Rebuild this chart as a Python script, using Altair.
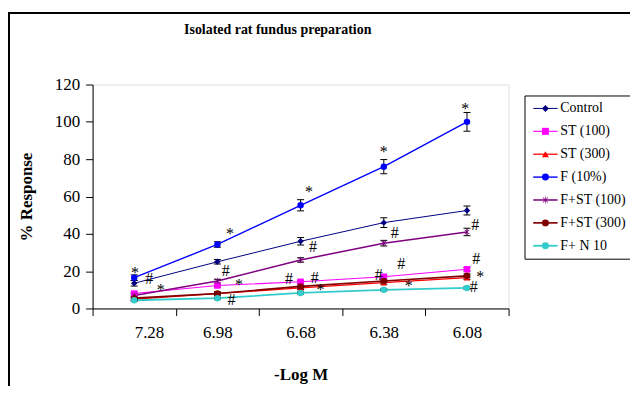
import altair as alt
import pandas as pd

# ---------------- data ----------------
x_labels = ["7.28", "6.98", "6.68", "6.38", "6.08"]
series_names = ["Control", "ST (100)", "ST (300)", "F (10%)", "F+ST (100)", "F+ST (300)", "F+ N 10"]

control = [13.5, 25.0, 36.0, 46.0, 52.5]
st100 = [8.0, 12.3, 14.3, 17.0, 21.0]
st300 = [5.0, 8.0, 11.0, 13.8, 16.5]
f10 = [16.5, 34.3, 55.3, 76.0, 100.0]
fst100 = [7.0, 14.7, 26.0, 35.0, 41.0]
fst300 = [5.5, 8.0, 11.8, 14.7, 17.5]
fn10 = [4.4, 5.5, 8.3, 10.0, 11.0]

control_err = [1.5, 1.2, 2.0, 2.6, 2.4]
st100_err = [0.8, 0.8, 0.8, 0.8, 1.0]
st300_err = [0.8, 0.8, 0.8, 0.8, 1.0]
f10_err = [1.5, 1.5, 3.0, 3.8, 5.0]
fst100_err = [1.0, 1.0, 1.2, 1.5, 2.0]
fst300_err = [0.8, 0.8, 0.8, 0.8, 1.0]
fn10_err = [0.5, 0.5, 0.6, 0.6, 0.8]

values = [control, st100, st300, f10, fst100, fst300, fn10]
errors = [control_err, st100_err, st300_err, f10_err, fst100_err, fst300_err, fn10_err]

colors = ["#000080", "#FF00FF", "#FF0000", "#0000FF", "#800080", "#800000", "#33CCCC"]
line_widths = [1, 1.8, 1.8, 1, 1, 1.8, 2.6]

star_path = ("M-0.09,-1L0.09,-1L0.09,1L-0.09,1Z"
             "M-0.615,-0.785L0.785,0.615L0.615,0.785L-0.785,-0.615Z"
             "M-0.785,0.615L0.615,-0.785L0.785,-0.615L-0.615,0.785Z")
shapes = ["diamond", "square", "triangle-up", "circle", star_path, "circle", "circle"]

# significance marks: x position in category units, y value
star_x = [0.51, 0.82, 1.65, 1.76, 2.60, 2.74, 3.50, 3.80, 4.48, 4.66]
star_y = [21.3, 12.0, 42.0, 14.7, 64.5, 12.0, 85.9, 14.2, 109.0, 19.2]
hash_x = [0.68, 1.60, 1.67, 2.36, 2.65, 2.67, 3.44, 3.63, 3.71, 4.58, 4.60, 4.61]
hash_y = [16.5, 20.6, 5.0, 16.5, 33.4, 17.0, 18.3, 41.0, 24.2, 12.0, 45.5, 26.8]

# ---------------- tables ----------------
rows = []
for s, vals, errs in zip(series_names, values, errors):
    for i, (v, e) in enumerate(zip(vals, errs)):
        rows.append({"series": s, "xi": i + 0.5, "value": v, "lo": v - e, "hi": v + e})
df = pd.DataFrame(rows)
stars = pd.DataFrame({"x": star_x, "y": star_y, "t": "*"})
hashes = pd.DataFrame({"x": hash_x, "y": hash_y, "t": "#"})

FONT = "Liberation Serif"
W, H = 418, 225

label_expr = "datum.value < 5 ? " + str(x_labels) + "[datum.value] : ''"

x_scale = alt.Scale(domain=[0, 5], nice=False, zero=False)
y_scale = alt.Scale(domain=[0, 120], nice=False)
x_axis = alt.Axis(values=[0, 1, 2, 3, 4, 5], labelExpr=label_expr,
                  labelOffset=W / 10, tickSize=7, labelPadding=9,
                  labelFont=FONT, labelFontSize=17, labelColor="black",
                  labelOverlap=False,
                  domainColor="black", tickColor="black", grid=False,
                  title="-Log M", titleFont=FONT, titleFontSize=17,
                  titleFontWeight="bold", titleColor="black",
                  titleY=66, titleBaseline="middle")
y_axis = alt.Axis(values=[0, 20, 40, 60, 80, 100, 120], tickSize=7,
                  labelPadding=6, labelFont=FONT, labelFontSize=17,
                  labelColor="black", labelOverlap=False,
                  domainColor="black", tickColor="black",
                  grid=False, title="% Response", titleFont=FONT,
                  titleFontSize=17, titleFontWeight="bold", titleColor="black",
                  titleX=-66, titleY=H / 2, titleAngle=270,
                  titleBaseline="middle")


def X(field):
    return alt.X(field, type="quantitative", scale=x_scale, axis=x_axis)


def Y(field):
    return alt.Y(field, type="quantitative", scale=y_scale, axis=y_axis)


leg_font = dict(title=None, symbolSize=49, symbolOffset=8, labelOffset=8, rowPadding=9.0,
                labelFont=FONT, labelFontSize=14)

# legend with the line samples and the box
legend_lines = alt.Legend(orient="none", legendX=434, legendY=11, padding=6,
                          symbolType="M-3.5,0L3.5,0", symbolStrokeWidth=1.5,
                          strokeColor="black", labelOpacity=0, labelColor="transparent",
                          zindex=1, **leg_font)
# legend with the markers and the labels, placed on top of the first one
legend_marks = alt.Legend(orient="right", offset=5, padding=17, labelColor="black",
                          zindex=2, **leg_font)

color_sc = alt.Scale(domain=series_names, range=colors)
shape_sc = alt.Scale(domain=series_names, range=shapes)
width_sc = alt.Scale(domain=series_names, range=line_widths)

base = alt.Chart(df)

# invisible layer that declares the marker legend first
legend_anchor = base.mark_point(filled=True, opacity=0, size=1).encode(
    x=X("xi"), y=Y("value"),
    color=alt.Color("series:N", scale=color_sc, legend=legend_marks),
    shape=alt.Shape("series:N", scale=shape_sc, legend=legend_marks),
)

lines = base.mark_line().encode(
    x=X("xi"), y=Y("value"),
    stroke=alt.Stroke("series:N", scale=color_sc, legend=legend_lines),
    strokeWidth=alt.StrokeWidth("series:N", scale=width_sc, legend=alt.Legend(title=None)),
    detail="series:N",
)

err_rule = base.mark_rule(color="black", strokeWidth=1).encode(
    x=X("xi"), y=Y("lo"), y2="hi:Q")
err_lo = base.mark_tick(color="black", size=7, thickness=1, orient="horizontal", opacity=1).encode(
    x=X("xi"), y=Y("lo"))
err_hi = base.mark_tick(color="black", size=7, thickness=1, orient="horizontal", opacity=1).encode(
    x=X("xi"), y=Y("hi"))

points = base.mark_point(filled=True, opacity=1, size=42).encode(
    x=X("xi"), y=Y("value"),
    color=alt.Color("series:N", scale=color_sc, legend=legend_marks),
    shape=alt.Shape("series:N", scale=shape_sc, legend=legend_marks),
)

star_text = alt.Chart(stars).mark_text(font=FONT, fontSize=16, color="black", dy=4).encode(
    x=X("x"), y=Y("y"), text="t:N")
hash_text = alt.Chart(hashes).mark_text(font=FONT, fontSize=16, color="black", dy=1).encode(
    x=X("x"), y=Y("y"), text="t:N")

frame_left = alt.Chart(df).mark_rule(color="black", strokeWidth=1.2).encode(
    x=alt.value(-84.5), y=alt.value(-72), y2=alt.value(320))
frame_top = alt.Chart(df).mark_rule(color="black", strokeWidth=1.2).encode(
    x=alt.value(-85), x2=alt.value(560), y=alt.value(-71.5))

chart = alt.layer(
    legend_anchor, frame_left, frame_top, lines, err_rule, err_lo, err_hi, points,
    star_text, hash_text
).properties(
    width=W, height=H,
    title=alt.TitleParams("Isolated rat fundus preparation", font=FONT, fontSize=14,
                          fontWeight="bold", color="black", anchor="middle",
                          dx=-23, offset=-25),
    autosize=alt.AutoSizeParams(type="none"),
    padding={"left": 85, "top": 76, "right": 122, "bottom": 77},
).configure_view(
    stroke="#999999", strokeWidth=1
).configure_axis(
    labelOverlap=False
).configure(background="white")

chart.save("out.html", embed_options={"renderer": "svg", "actions": False})
